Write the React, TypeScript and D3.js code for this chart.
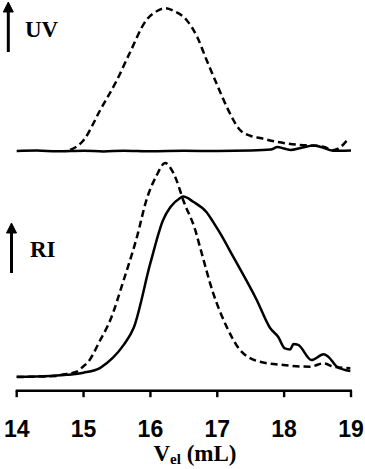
import React from "react";
import * as d3 from "d3";

// Elution volume (mL) and normalized detector signal (a.u.)
const uvDashed: [number, number][] = [
  [14.8, 0.7], [15.0, 7.5], [15.25, 28.7], [15.5, 49.7], [15.69, 68.5], [15.94, 91.6],
  [16.1, 97.9], [16.22, 99.8], [16.35, 97.9], [16.54, 91.6], [16.7, 79.7], [16.84, 63.6],
  [17.0, 46], [17.14, 31], [17.34, 14.7], [17.5, 10.5], [17.64, 9.1], [17.9, 6.3],
  [18.24, 4.2], [18.49, 3.7], [18.6, 2.8], [18.73, 0.5], [18.8, 1.4], [18.96, 8.5],
];
const uvSolid: [number, number][] = [
  [14.0, 0], [14.3, 0.3], [14.6, -0.2], [15.0, 0.2], [15.3, -0.3], [15.6, 0.2],
  [16.0, -0.2], [16.5, 0.1], [17.0, 0], [17.5, 0.3], [17.8, 1], [17.9, 2.8],
  [18.0, 1.7], [18.1, 0.7], [18.25, 2.1], [18.44, 3.8], [18.55, 2.8], [18.73, 0.2], [19.0, 0.3],
];
const riSolid: [number, number][] = [
  [14.0, 0.1], [14.5, 0.5], [14.75, 1.0], [15.0, 2.0], [15.25, 4.3], [15.44, 9],
  [15.6, 15], [15.75, 23], [16.0, 53.3], [16.19, 73.4], [16.3, 79.4], [16.44, 83.5],
  [16.49, 84.3], [16.64, 81.9], [16.84, 77], [16.94, 72.4], [17.04, 67.3], [17.24, 56.1],
  [17.59, 36], [17.79, 22.9], [17.91, 18.8], [18.01, 13.4], [18.09, 12.9], [18.14, 15.4],
  [18.21, 15], [18.41, 7.9], [18.59, 10.6], [18.66, 9.5], [18.79, 4.8], [18.99, 2.8],
];
const riDashed: [number, number][] = [
  [14.0, 0], [14.6, 0.5], [14.65, 0.9], [14.9, 2.5], [14.99, 4.8], [15.07, 7.1],
  [15.25, 17.3], [15.4, 26.6], [15.6, 45.3], [15.8, 65.6], [15.94, 82.7], [16.09, 94],
  [16.22, 100], [16.3, 97.7], [16.39, 92], [16.49, 82.7], [16.67, 68.7], [16.74, 60.9],
  [16.94, 39.1], [17.14, 23.5], [17.34, 12.6], [17.64, 7.1], [17.99, 5.6], [18.39, 4.8],
  [18.59, 6.4], [18.74, 4.8], [18.99, 4.1],
];
const xTicks = [14, 15, 16, 17, 18, 19];

export default function App() {
  const x = d3.scaleLinear().domain([14, 19]).range([16.7, 351]);
  const yUV = d3.scaleLinear().domain([0, 100]).range([151, 8]);
  const yRI = d3.scaleLinear().domain([0, 100]).range([377, 163]);
  const lineUV = d3.line<[number, number]>().x((d) => x(d[0])).y((d) => yUV(d[1])).curve(d3.curveMonotoneX);
  const lineRI = d3.line<[number, number]>().x((d) => x(d[0])).y((d) => yRI(d[1])).curve(d3.curveMonotoneX);
  const axisY = 390.7;
  const serif = "'Liberation Serif', 'Times New Roman', serif";
  const sans = "'Liberation Sans', Arial, sans-serif";
  const sw = 2.5;

  const arrow = (ax: number, top: number, bottom: number) => (
    <g>
      <line x1={ax} x2={ax} y1={top + 8} y2={bottom} stroke="#000" strokeWidth={3} />
      <path d={`M${ax - 5},${top + 10} L${ax},${top} L${ax + 5},${top + 10} Z`} fill="#000" stroke="#000" strokeWidth={1} strokeLinejoin="miter" />
    </g>
  );

  return (
    <svg width={365} height={469} style={{ position: "absolute", left: 0, top: 0, background: "#fff" }}>
      <rect width={365} height={469} fill="#fff" />
      {/* UV panel */}
      <path d={lineUV(uvSolid) || ""} fill="none" stroke="#000" strokeWidth={sw} />
      <path d={lineUV(uvDashed) || ""} fill="none" stroke="#000" strokeWidth={sw} strokeDasharray="7,4" />
      {arrow(8.3, 2, 52)}
      <text x={25} y={37} fontFamily={serif} fontWeight="bold" fontSize={23}>UV</text>

      {/* RI panel */}
      <path d={lineRI(riSolid) || ""} fill="none" stroke="#000" strokeWidth={sw} />
      <path d={lineRI(riDashed) || ""} fill="none" stroke="#000" strokeWidth={sw} strokeDasharray="7,4" />
      {arrow(11.5, 223, 273)}
      <text x={30} y={257} fontFamily={serif} fontWeight="bold" fontSize={23}>RI</text>

      {/* x axis */}
      <line x1={x(14) - 1} x2={x(19) + 1} y1={axisY} y2={axisY} stroke="#000" strokeWidth={2.4} />
      {xTicks.map((t) => (
        <g key={t}>
          <line x1={x(t)} x2={x(t)} y1={axisY} y2={axisY + 6.5} stroke="#000" strokeWidth={2.4} />
          <text x={x(t)} y={436.5} textAnchor="middle" fontFamily={sans} fontWeight="bold" fontSize={23}>{t}</text>
        </g>
      ))}
      <text x={195} y={461} textAnchor="middle" fontFamily={serif} fontWeight="bold" fontSize={23}>
        V<tspan fontSize={15} dy={3}>el</tspan><tspan dy={-3}> (mL)</tspan>
      </text>
    </svg>
  );
}
